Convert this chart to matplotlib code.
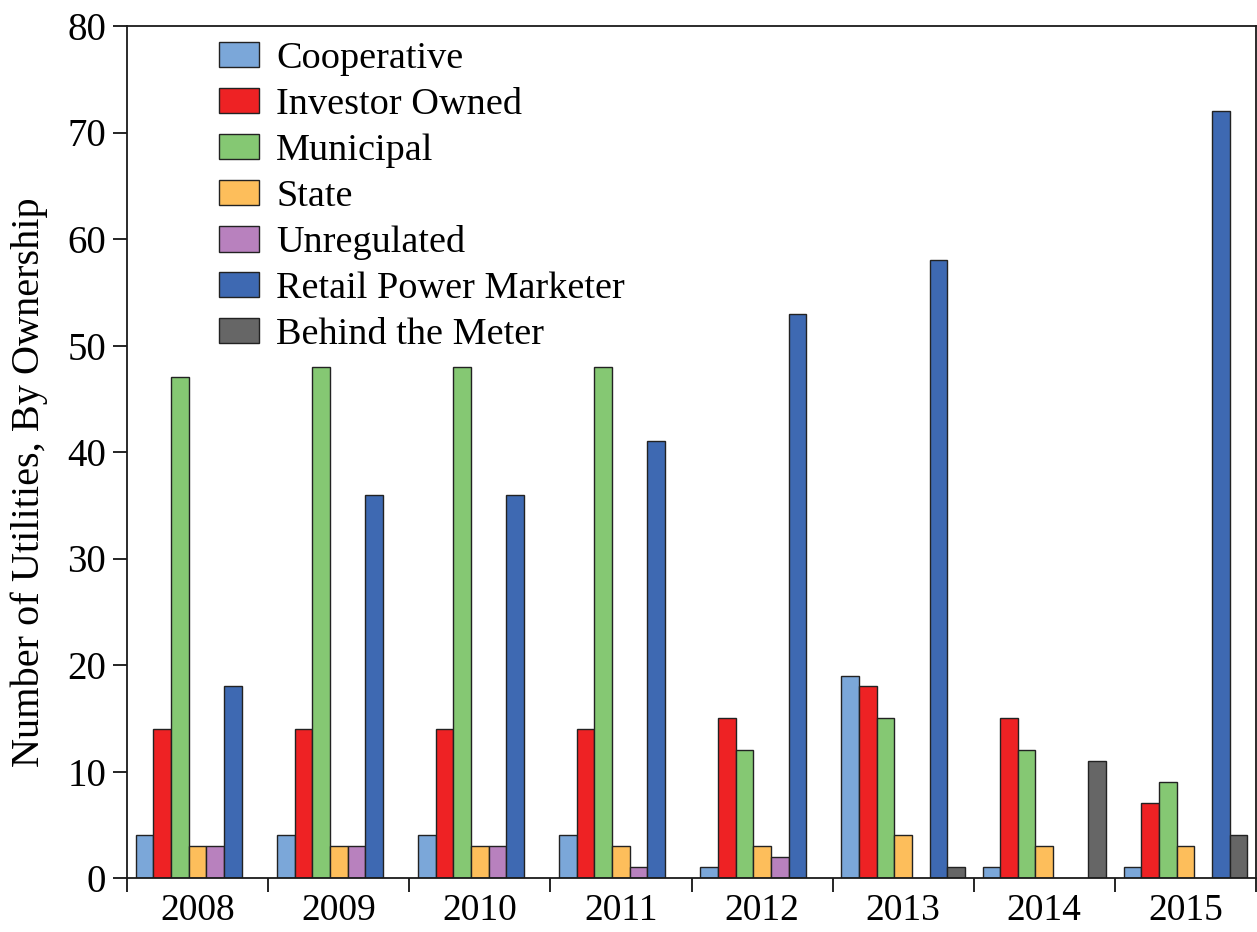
import matplotlib
matplotlib.use("Agg")
import matplotlib.pyplot as plt
import numpy as np

years = ["2008", "2009", "2010", "2011", "2012", "2013", "2014", "2015"]
series_names = ["Cooperative", "Investor Owned", "Municipal", "State",
                "Unregulated", "Retail Power Marketer", "Behind the Meter"]
cooperative = [4, 4, 4, 4, 1, 19, 1, 1]
investor_owned = [14, 14, 14, 14, 15, 18, 15, 7]
municipal = [47, 48, 48, 48, 12, 15, 12, 9]
state = [3, 3, 3, 3, 3, 4, 3, 3]
unregulated = [3, 3, 3, 1, 2, 0, 0, 0]
retail_power_marketer = [18, 36, 36, 41, 53, 58, 0, 72]
behind_the_meter = [0, 0, 0, 0, 0, 1, 11, 4]
colors = ["#7BA7D9", "#EE2224", "#85C873", "#FDBE5B", "#B881BE", "#3E69B2", "#666666"]

series = [cooperative, investor_owned, municipal, state, unregulated,
          retail_power_marketer, behind_the_meter]

plt.rcParams['font.family'] = ['Liberation Serif', 'DejaVu Serif']

fig = plt.figure(figsize=(12.57, 9.32), dpi=100)
ax = fig.add_axes([127/1257, 1 - 878/932, (1256-127)/1257, (878-26)/932])

n = len(series)
x = np.arange(len(years))
bw = 1.0 / (n + 1)
for i, (name, vals, c) in enumerate(zip(series_names, series, colors)):
    vals = np.array(vals, dtype=float)
    pos = x + (i - (n - 1) / 2) * bw
    mask = vals > 0
    ax.bar(pos[mask], vals[mask], width=bw, color=c, edgecolor="#222222",
           linewidth=1.0, label=name)

ax.set_xlim(-0.5, len(years) - 0.5)
ax.set_ylim(0, 80)
ax.set_yticks(np.arange(0, 81, 10))
ax.set_xticks(np.arange(len(years) + 1) - 0.5)
ax.set_xticklabels([])
ax.set_xticks(x, minor=True)
ax.set_xticklabels(years, minor=True)
ax.tick_params(axis='x', which='minor', length=0, labelsize=27, pad=11)
ax.tick_params(axis='x', which='major', length=10, width=1.2, direction='out')
ax.tick_params(axis='y', length=10, width=1.2, labelsize=28, pad=5)
for s in ax.spines.values():
    s.set_linewidth(1.3)
    s.set_color("#1a1a1a")

ax.set_ylabel("Number of Utilities, By Ownership", fontsize=29)
ax.yaxis.set_label_coords(-0.070, 0.465)

leg = ax.legend(loc='upper left', bbox_to_anchor=(0.0815, 0.982), frameon=False,
                fontsize=27.5, handlelength=1.05, handleheight=0.65,
                handletextpad=0.45, labelspacing=0.30, borderpad=0,
                borderaxespad=0)

fig.savefig("out.png", dpi=100)
